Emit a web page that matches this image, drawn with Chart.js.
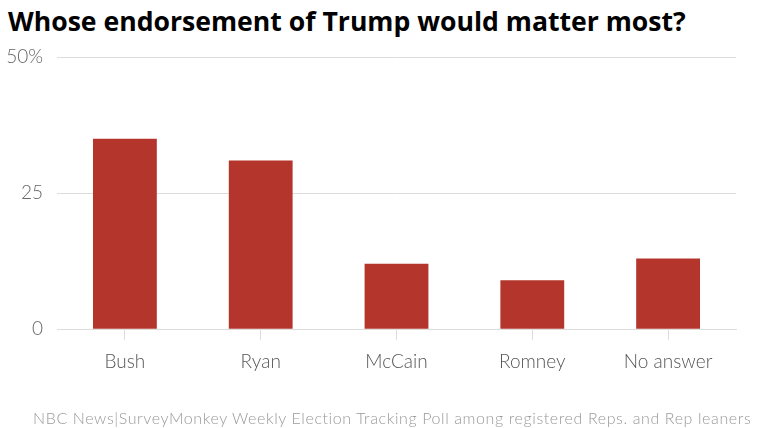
<!DOCTYPE html>
<html>
<head>
<meta charset="utf-8">
<script src="https://cdn.jsdelivr.net/npm/chart.js@4"></script>
<style>
    body { margin: 0; background: #fff; }
    #wrap { position: relative; width: 760px; height: 428px; overflow: hidden; }
    #title {
        position: absolute; left: 8px; top: 3px;
        font-family: "Open Sans", Lato, sans-serif; font-weight: 700;
        font-size: 26.6px; color: #000; white-space: nowrap;
    }
    #source {
        position: absolute; left: 33px; top: 408px;
        font-family: Lato, "Open Sans", sans-serif; font-weight: 300;
        font-size: 16px; letter-spacing: 0.6px; color: #999; white-space: nowrap;
    }
    canvas { position: absolute; left: 0; top: 0; }
</style>
</head>
<body>
<div id="wrap">
    <div id="title">Whose endorsement of Trump would matter most?</div>
    <canvas id="chart" width="760" height="428"></canvas>
    <div id="source">NBC News|SurveyMonkey Weekly Election Tracking Poll among registered Reps. and Rep leaners</div>
</div>
<script>
// ==================== DATA ====================
const categories = ['Bush', 'Ryan', 'McCain', 'Romney', 'No answer'];
const shares = [35, 31, 12, 9, 13];
const yTicks = [0, 25, 50];

const ctx = document.getElementById('chart').getContext('2d');

new Chart(ctx, {
    type: 'bar',
    data: {
        labels: categories,
        datasets: [
            {
                label: 'Share',
                data: shares,
                backgroundColor: '#b3352b',
                categoryPercentage: 1,
                barPercentage: 0.47
            }
        ]
    },
    options: {
        responsive: false,
        animation: false,
        layout: { padding: { top: 57, right: 24, bottom: 45, left: 0 } },
        plugins: {
            legend: { display: false },
            tooltip: { enabled: false }
        },
        scales: {
            x: {
                grid: { offset: false, drawOnChartArea: false, drawTicks: true, tickLength: 11, color: '#ddd' },
                border: { display: true, color: '#ddd' },
                ticks: {
                    color: '#555',
                    padding: 10,
                    font: { family: 'Lato', size: 19, weight: 300 }
                }
            },
            y: {
                min: 0,
                max: 50,
                afterBuildTicks: axis => { axis.ticks = yTicks.map(v => ({ value: v })); },
                afterFit: axis => { axis.width = 57; },
                grid: { drawTicks: false, color: '#ddd' },
                border: { display: false },
                ticks: {
                    color: '#666',
                    padding: 14,
                    font: { family: 'Lato', size: 19, weight: 300 },
                    callback: v => v === 50 ? '50%' : v
                }
            }
        }
    }
});
</script>
</body>
</html>
